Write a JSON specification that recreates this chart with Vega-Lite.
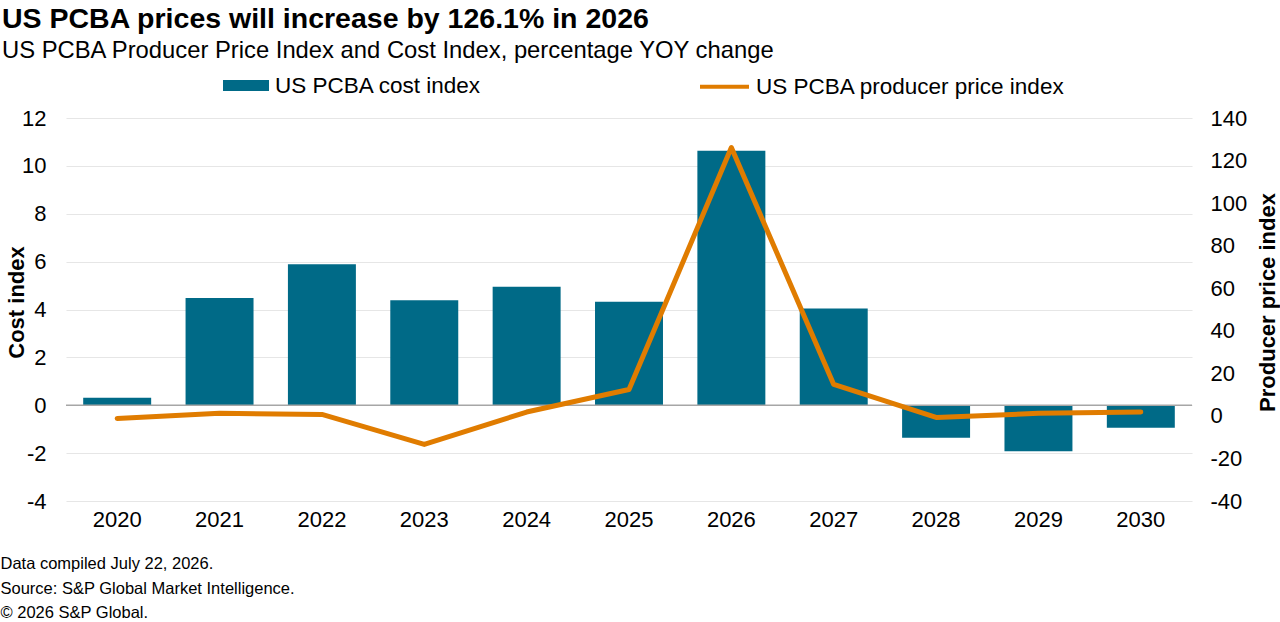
{
  "$schema": "https://vega.github.io/schema/vega-lite/v6.json",
  "width": 1126,
  "height": 383,
  "autosize": {"type": "none"},
  "padding": {"left": 66, "top": 118, "right": 88, "bottom": 121},
  "background": "white",
  "title": {
    "text": "US PCBA prices will increase by 126.1% in 2026",
    "subtitle": "US PCBA Producer Price Index and Cost Index, percentage YOY change",
    "anchor": "start",
    "frame": "group",
    "dx": -64,
    "offset": -2.5,
    "font": "Liberation Sans",
    "fontSize": 28.5,
    "fontWeight": "bold",
    "color": "#000000",
    "subtitleFont": "Liberation Sans",
    "subtitleFontSize": 23.8,
    "subtitleColor": "#000000",
    "subtitlePadding": 5
  },
  "data": {
    "values": [
      {"year": "2020", "cost": 0.31, "ppi": -1.2},
      {"year": "2021", "cost": 4.48, "ppi": 1.2},
      {"year": "2022", "cost": 5.89, "ppi": 0.7},
      {"year": "2023", "cost": 4.39, "ppi": -13.4},
      {"year": "2024", "cost": 4.95, "ppi": 1.8},
      {"year": "2025", "cost": 4.32, "ppi": 12.4},
      {"year": "2026", "cost": 10.63, "ppi": 126.1},
      {"year": "2027", "cost": 4.04, "ppi": 14.8},
      {"year": "2028", "cost": -1.36, "ppi": -0.7},
      {"year": "2029", "cost": -1.92, "ppi": 1.2},
      {"year": "2030", "cost": -0.94, "ppi": 1.8}
    ]
  },
  "layer": [
    {
      "layer": [
        {
          "mark": {"type": "bar"},
          "encoding": {
            "x": {
              "field": "year",
              "type": "ordinal",
              "scale": {"paddingInner": 0.336, "paddingOuter": 0.168},
              "axis": {
                "labelAngle": 0,
                "labelPadding": 8,
                "title": ["Data compiled July 22, 2026.", "Source: S&P Global Market Intelligence.", "© 2026 S&P Global."],
                "titleFontSize": 16.5,
                "titleFontWeight": "normal",
                "titleAlign": "left",
                "titleBaseline": "alphabetic",
                "titleX": -66,
                "titleY": 67.6,
                "titleLineHeight": 24.5
              }
            },
            "y": {
              "field": "cost",
              "type": "quantitative",
              "scale": {"domain": [-4, 12], "nice": false, "zero": false},
              "axis": {
                "title": "Cost index",
                "values": [-4, -2, 0, 2, 4, 6, 8, 10, 12],
                "labelExpr": "'' + datum.value",
                "grid": true,
                "labelPadding": 20,
                "titleFontWeight": "bold",
                "titleAngle": 270,
                "titleAlign": "center",
                "titleBaseline": "alphabetic",
                "titleX": -43,
                "titleY": 184
              }
            },
            "fill": {
              "datum": "US PCBA cost index",
              "type": "nominal",
              "scale": {"range": ["#006a87"]},
              "legend": {
                "orient": "none",
                "legendX": 157,
                "legendY": -55.4,
                "title": null,
                "symbolType": "M-1,-0.24H1V0.24H-1Z",
                "symbolSize": 2116,
                "symbolStrokeWidth": 0,
                "labelOffset": 6
              }
            }
          }
        },
        {
          "data": {"values": [{"v": 0}]},
          "mark": {"type": "rule", "color": "#a6a6a6", "strokeWidth": 1.5},
          "encoding": {"y": {"field": "v", "type": "quantitative"}}
        }
      ]
    },
    {
      "mark": {"type": "line", "strokeWidth": 5, "strokeCap": "round", "strokeJoin": "round"},
      "encoding": {
        "x": {"field": "year", "type": "ordinal"},
        "y": {
          "field": "ppi",
          "type": "quantitative",
          "scale": {"domain": [-40, 140], "nice": false, "zero": false},
          "axis": {
            "orient": "right",
            "title": "Producer price index",
            "values": [-40, -20, 0, 20, 40, 60, 80, 100, 120, 140],
            "labelExpr": "'' + datum.value",
            "grid": false,
            "labelPadding": 18,
            "titleFontWeight": "bold",
            "titleAngle": 270,
            "titleAlign": "center",
            "titleBaseline": "alphabetic",
            "titleX": 82,
            "titleY": 184
          }
        },
        "stroke": {
          "datum": "US PCBA producer price index",
          "type": "nominal",
          "scale": {"range": ["#e07c00"]},
          "legend": {
            "orient": "none",
            "legendX": 632,
            "legendY": -57.8,
            "title": null,
            "symbolType": "stroke",
            "symbolSize": 2401,
            "symbolStrokeWidth": 4,
            "labelOffset": 5
          }
        }
      }
    }
  ],
  "resolve": {"scale": {"y": "independent"}},
  "config": {
    "view": {"stroke": null},
    "axis": {
      "labelFont": "Liberation Sans",
      "titleFont": "Liberation Sans",
      "labelColor": "#000000",
      "titleColor": "#000000",
      "labelFontSize": 22,
      "titleFontSize": 22,
      "domain": false,
      "ticks": false,
      "gridColor": "#e6e6e6",
      "gridWidth": 1.2
    },
    "legend": {
      "labelFont": "Liberation Sans",
      "labelFontSize": 22.5,
      "labelColor": "#000000",
      "labelLimit": 500,
      "padding": 0
    }
  }
}
